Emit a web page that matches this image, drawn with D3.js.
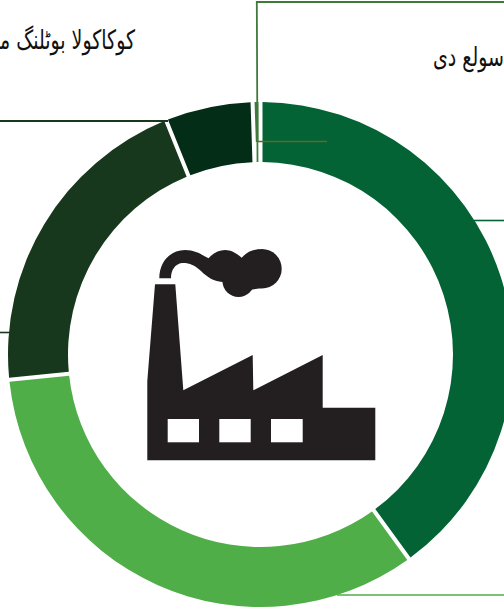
<!DOCTYPE html>
<html>
<head>
<meta charset="utf-8">
<script src="https://cdn.jsdelivr.net/npm/d3@7"></script>
<style>
  html, body { margin: 0; padding: 0; background: #fff; overflow: hidden; }
  svg { display: block; }
</style>
</head>
<body>
<svg id="chart" width="504" height="609"></svg>
<script>
// share of each slice in percent, clockwise from 12 o'clock
const sliceNames = ['a', 'b', 'c', 'd', 'e'];
const sliceValues = [40.0, 33.4, 20.5, 5.6, 0.5];
const sliceColors = ['#046334', '#50ae48', '#17381c', '#042d17', '#3f7a3c'];

const labels = ['کوکاکولا بوٹلنگ میں', 'سولع دی'];

const cx = 260.5;
const cy = 354.5;
const outerR = 252.5;
const innerR = 192.5;
const gap = 4;

const svg = d3.select('#chart');

const pie = d3.pie().value(d => d.value).sort(null);
// the thin last slice stops short of the inner edge, a line carries on from it
const arc = d3.arc()
    .innerRadius(d => d.data.name === 'e' ? 212.5 : innerR)
    .outerRadius(outerR)
    .padAngle(gap / outerR)
    .padRadius(outerR);
const sliceData = sliceNames.map((n, i) => ({ name: n, value: sliceValues[i], color: sliceColors[i] }));

const ring = svg.append('g').attr('transform', `translate(${cx},${cy})`);
ring.selectAll('path')
    .data(pie(sliceData))
    .join('path')
    .attr('d', arc)
    .attr('fill', d => d.data.color);

// leader lines
const leaders = [
    { d: 'M257.5,162L256.8,2H504', c: '#3f7a3c', w: 1.8 },
    { d: 'M257.5,141.5H327', c: '#5a6a30', w: 1.4 },
    { d: 'M0,121H168', c: '#17381c', w: 1.8 },
    { d: 'M474,220.5H504', c: '#046334', w: 1.6 },
    { d: 'M0,332.5H10', c: '#17381c', w: 1.6 },
    { d: 'M337,595H504', c: '#50ae48', w: 1.6 }
];
svg.append('g').selectAll('path')
    .data(leaders)
    .join('path')
    .attr('d', d => d.d)
    .attr('fill', 'none')
    .attr('stroke', d => d.c)
    .attr('stroke-width', d => d.w);

// factory icon
const icon = svg.append('g').attr('fill', '#231f20');
icon.append('path').attr('d',
    'M147.3,381 L155,284.3 L175.3,284.3 L183.3,390.3 L252.7,355 L253.3,390.3 L322.7,355 L322.7,407.7 ' +
    'L375.3,407.7 L375.3,460.3 L147.3,460.3 Z');
// smoke: a band out of the chimney, then the puffs
icon.append('path').attr('d',
    'M159.3,278.3 C159.3,261 171,250 185,250 C196,250 202,255 208.5,258.3 ' +
    'C213,253 219,250 225,250 C232,250 237,254 241.7,257.7 C246,253 252,249.3 260,249.3 ' +
    'L262,288 L235,292 L222.5,282 ' +
    'C213,281 207,277 201,271 C195,265 188,262.5 182,263 C175,264 171,270 171,278.3 Z');
icon.append('circle').attr('cx', 238.5).attr('cy', 281).attr('r', 16);
icon.append('circle').attr('cx', 262).attr('cy', 268.8).attr('r', 19.7);
const windows = icon.append('g').attr('fill', '#fff');
windows.append('rect').attr('x', 167.7).attr('y', 419).attr('width', 31.3).attr('height', 23.3);
windows.append('rect').attr('x', 219.3).attr('y', 419).attr('width', 31.4).attr('height', 23.3);
windows.append('rect').attr('x', 271).attr('y', 419).attr('width', 31.7).attr('height', 23.3);

// labels, both run off the edge of the picture as in the source page
const labelPos = [[135, 49], [504, 66]];
svg.append('g').selectAll('text')
    .data(labels)
    .join('text')
    .attr('transform', (d, i) => `translate(${labelPos[i][0]},${labelPos[i][1]}) scale(1,1.4)`)
    .attr('direction', 'rtl')
    .attr('text-anchor', 'start')
    .attr('font-family', '"DejaVu Sans", "Noto Sans", sans-serif')
    .attr('font-size', 19)
    .attr('fill', '#111')
    .text(d => d);
</script>
</body>
</html>
